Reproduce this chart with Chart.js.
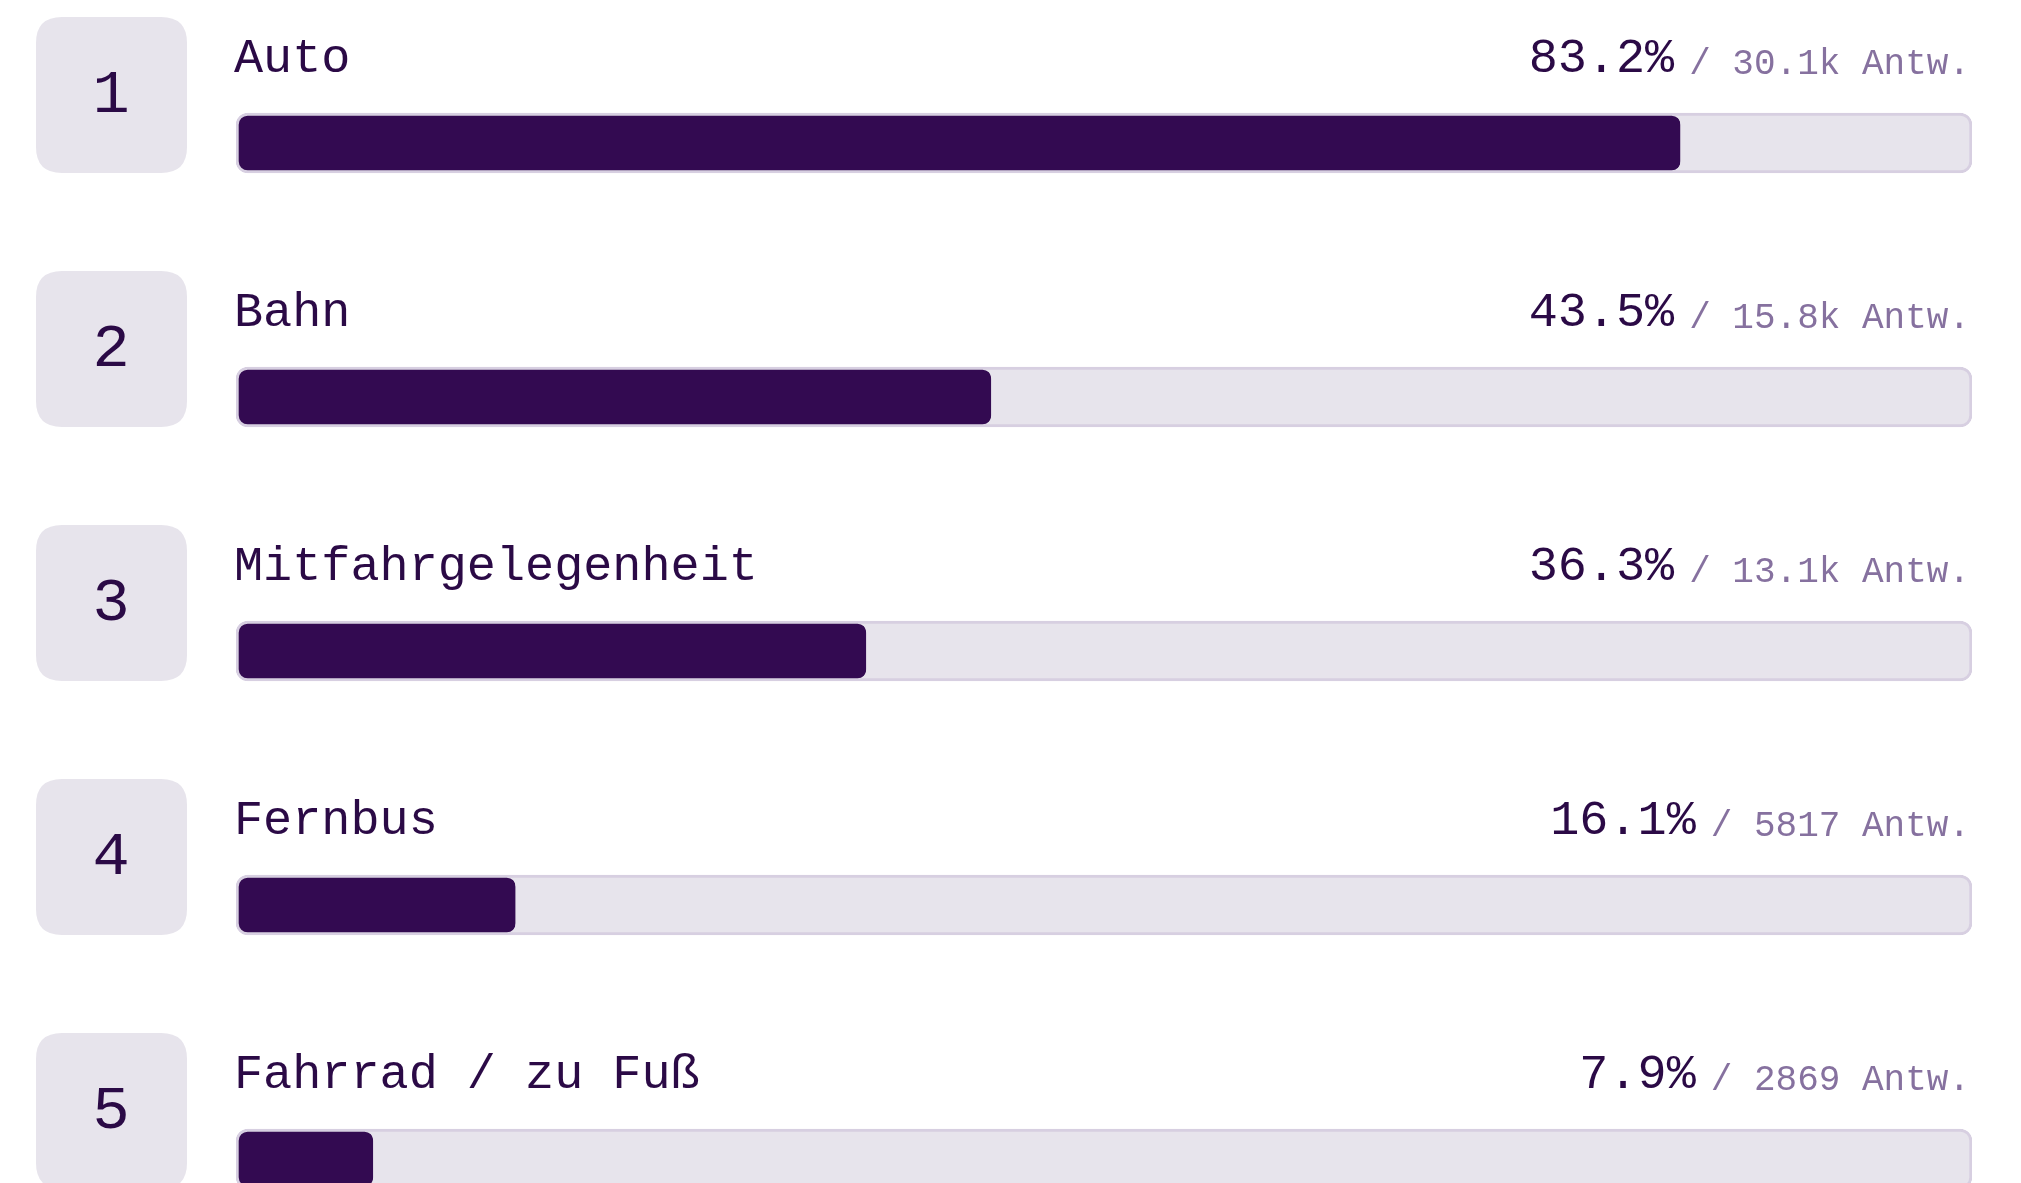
<!DOCTYPE html>
<html>
<head>
<meta charset="utf-8">
<script src="https://cdn.jsdelivr.net/npm/chart.js@4/dist/chart.umd.min.js"></script>
<style>
    html, body { margin: 0; padding: 0; background: #fff; overflow: hidden; }
    #wrap { width: 2021px; height: 1286px; position: relative; }
</style>
</head>
<body>
<div id="wrap"><canvas id="rankChart"></canvas></div>
<script>
var categories = ["Auto", "Bahn", "Mitfahrgelegenheit", "Fernbus", "Fahrrad / zu Fuß"];
var percentValues = [83.2, 43.5, 36.3, 16.1, 7.9];
var answerLabels = ["30.1k", "15.8k", "13.1k", "5817", "2869"];
var fullTrack = [100, 100, 100, 100, 100];

var monoFont = "'Liberation Mono', 'DejaVu Sans Mono', monospace";
var darkText = "#2b0a46";
var softText = "#86719f";

function roundRect(ctx, x, y, w, h, r) {
    ctx.beginPath();
    ctx.moveTo(x + r, y);
    ctx.lineTo(x + w - r, y);
    ctx.quadraticCurveTo(x + w, y, x + w, y + r);
    ctx.lineTo(x + w, y + h - r);
    ctx.quadraticCurveTo(x + w, y + h, x + w - r, y + h);
    ctx.lineTo(x + r, y + h);
    ctx.quadraticCurveTo(x, y + h, x, y + h - r);
    ctx.lineTo(x, y + r);
    ctx.quadraticCurveTo(x, y, x + r, y);
    ctx.closePath();
}

// draws rank boxes, labels and the value text around each bar
var rowText = {
    id: "rowText",
    afterDatasetsDraw: function(chart) {
        var ctx = chart.ctx;
        var area = chart.chartArea;
        var yScale = chart.scales.y;
        ctx.save();
        categories.forEach(function(name, i) {
            var cy = yScale.getPixelForValue(i);

            // rank box
            ctx.fillStyle = "#e7e4ec";
            roundRect(ctx, area.left - 200, cy - 126, 151, 156, 26);
            ctx.fill();
            ctx.fillStyle = darkText;
            ctx.font = "62px " + monoFont;
            ctx.textAlign = "center";
            ctx.textBaseline = "middle";
            ctx.fillText(String(i + 1), area.left - 125, cy - 47);

            // category label
            ctx.textBaseline = "alphabetic";
            ctx.textAlign = "left";
            ctx.font = "48.5px " + monoFont;
            ctx.fillText(name, area.left - 2, cy - 71);

            // answers + percent, right aligned
            var secondary = "/ " + answerLabels[i] + " Antw.";
            ctx.font = "36px " + monoFont;
            ctx.fillStyle = softText;
            ctx.textAlign = "right";
            ctx.fillText(secondary, area.right - 2, cy - 69);
            var secWidth = ctx.measureText(secondary).width;

            ctx.font = "48.5px " + monoFont;
            ctx.fillStyle = darkText;
            ctx.fillText(percentValues[i].toFixed(1) + "%", area.right - 2 - secWidth - 15, cy - 71);
        });
        ctx.restore();
    }
};

document.addEventListener("DOMContentLoaded", function() {
    var ctx = document.getElementById("rankChart").getContext("2d");
    new Chart(ctx, {
        type: "bar",
        data: {
            labels: categories,
            datasets: [{
                label: "Anteil",
                data: percentValues,
                backgroundColor: "#330a51",
                borderColor: "rgba(0,0,0,0)",
                borderWidth: { top: 3, bottom: 3, left: 3, right: 0 },
                borderSkipped: false,
                borderRadius: 12,
                barThickness: 60,
                grouped: false,
                order: 0
            }, {
                label: "Gesamt",
                data: fullTrack,
                backgroundColor: "#e7e4ec",
                borderColor: "#d7cfe1",
                borderWidth: 3,
                borderSkipped: false,
                borderRadius: 12,
                barThickness: 60,
                grouped: false,
                order: 1
            }]
        },
        options: {
            indexAxis: "y",
            responsive: true,
            maintainAspectRatio: false,
            animation: false,
            layout: { padding: { left: 236, right: 49, top: 16, bottom: 0 } },
            scales: {
                x: { display: false, min: 0, max: 100 },
                y: { display: false }
            },
            plugins: {
                legend: { display: false },
                tooltip: { enabled: false }
            }
        },
        plugins: [rowText]
    });
});
</script>
</body>
</html>
